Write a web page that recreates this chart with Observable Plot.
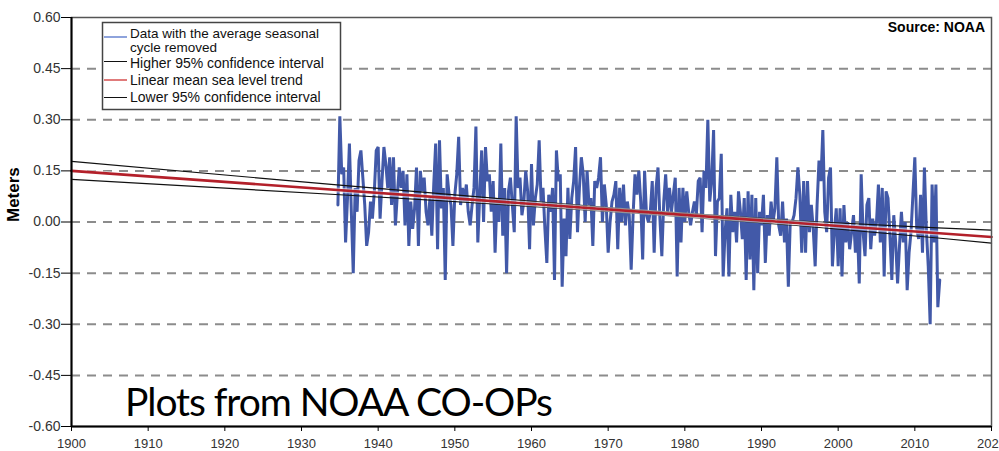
<!DOCTYPE html>
<html>
<head>
<meta charset="utf-8">
<script src="https://cdn.jsdelivr.net/npm/d3@7"></script>
<script src="https://cdn.jsdelivr.net/npm/@observablehq/plot@0.6"></script>
<style>
  html, body { margin: 0; padding: 0; background: #fff; }
  #wrap { position: relative; width: 999px; height: 451px; overflow: hidden; }
  #wrap > svg { position: absolute; left: 0; top: 0; }
  #overlay { pointer-events: none; }
</style>
</head>
<body>
<div id="wrap"></div>
<script>
// Monthly mean sea level with the average seasonal cycle removed (metres),
// sampled every quarter year starting at seriesStart.
const seriesStart = 1934.75;
const seriesStep = 0.25;
const seaLevel = [
  0.05,
  0.31, 0.14, 0.16, -0.06,   // 1935
  0.07, 0.23, 0.03, -0.15,   // 1936
  0.10, 0.03, 0.18, 0.21,    // 1937
  0.13, 0.05, -0.07, -0.03,  // 1938
  0.06, 0.01, 0.09, 0.21,    // 1939
  0.22, 0.01, 0.12, 0.22,    // 1940
  0.17, 0.10, 0.19, 0.05,    // 1941
  0.19, -0.01, 0.08, 0.16,   // 1942
  0.10, 0.15, -0.01, 0.14,   // 1943
  -0.07, 0.06, -0.02, 0.04,  // 1944
  0.16, -0.07, 0.15, 0.09,   // 1945
  0.13, 0.03, -0.01, 0.07,   // 1946
  -0.04, 0.11, 0.23, -0.08,  // 1947
  0.24, 0.04, 0.10, -0.17,   // 1948
  0.14, 0.08, 0.05, -0.07,   // 1949
  0.08, 0.14, 0.25, 0.05,    // 1950
  0.10, 0.06, 0.11, 0.03,    // 1951
  -0.01, 0.05, 0.10, 0.28,   // 1952
  -0.06, 0.08, 0.21, 0.00,   // 1953
  0.22, 0.12, 0.14, 0.03,    // 1954
  0.12, -0.09, 0.07, 0.00,   // 1955
  0.23, -0.04, 0.10, -0.15,  // 1956
  0.09, 0.13, 0.05, -0.03,   // 1957
  0.31, 0.10, 0.13, 0.02,    // 1958
  0.06, 0.15, 0.09, -0.08,   // 1959
  0.17, -0.01, 0.07, 0.11,   // 1960
  0.24, 0.06, 0.10, -0.02,   // 1961
  -0.12, 0.08, 0.03, 0.10,   // 1962
  -0.17, 0.21, 0.12, 0.14,   // 1963
  -0.19, 0.01, -0.10, 0.10,  // 1964
  -0.05, 0.07, 0.12, 0.22,   // 1965
  -0.03, 0.10, 0.19, 0.14,   // 1966
  0.00, 0.15, 0.05, 0.07,    // 1967
  -0.07, 0.12, 0.10, 0.13,   // 1968
  0.19, 0.00, 0.11, 0.05,    // 1969
  -0.09, 0.00, 0.06, 0.08,   // 1970
  0.12, -0.08, 0.10, 0.00,   // 1971
  0.11, -0.01, 0.06, 0.02,   // 1972
  -0.14, 0.02, 0.14, 0.08,   // 1973
  0.15, 0.06, -0.11, 0.15,   // 1974
  0.02, 0.00, 0.03, 0.12,    // 1975
  -0.09, 0.10, 0.16, 0.01,   // 1976
  -0.10, 0.06, 0.14, 0.03,   // 1977
  0.10, 0.03, 0.08, 0.13,    // 1978
  -0.16, 0.10, -0.06, 0.10,  // 1979
  0.00, 0.09, 0.03, -0.01,   // 1980
  0.03, 0.06, 0.02, 0.12,    // 1981
  0.13, -0.03, 0.15, 0.10,   // 1982
  0.30, 0.06, 0.12, 0.27,    // 1983
  -0.10, 0.06, 0.07, 0.20,   // 1984
  -0.16, -0.03, 0.04, -0.16, // 1985
  0.08, -0.03, 0.03, -0.06,  // 1986
  0.09, 0.03, -0.05, 0.07,   // 1987
  -0.17, 0.09, -0.11, 0.08,  // 1988
  -0.20, 0.07, -0.15, 0.03,  // 1989
  -0.01, 0.08, -0.12, 0.02,  // 1990
  -0.04, 0.06, 0.00, 0.04,   // 1991
  0.19, -0.01, -0.04, 0.06,  // 1992
  -0.06, 0.01, -0.19, 0.00,  // 1993
  0.00, 0.02, 0.07, 0.16,    // 1994
  0.08, -0.09, 0.12, -0.09,  // 1995
  0.12, -0.03, 0.05, -0.02,  // 1996
  -0.13, 0.05, 0.18, 0.12,   // 1997
  0.27, 0.03, -0.03, 0.13,   // 1998
  0.16, -0.13, -0.03, 0.04,  // 1999
  -0.13, 0.04, -0.16, 0.05,  // 2000
  -0.06, 0.00, -0.08, -0.03, // 2001
  0.02, -0.09, -0.01, -0.18, // 2002
  0.14, -0.03, -0.10, 0.05,  // 2003
  0.07, -0.08, 0.01, -0.04,  // 2004
  0.00, 0.11, -0.06, 0.10,   // 2005
  -0.16, 0.09, 0.07, -0.04,  // 2006
  -0.17, 0.02, -0.06, -0.18, // 2007
  -0.07, 0.03, -0.06, 0.00,  // 2008
  -0.20, -0.09, -0.03, 0.08, // 2009
  0.19, -0.02, -0.05, 0.08,  // 2010
  -0.09, 0.16, -0.02, -0.13, // 2011
  -0.30, 0.11, -0.06, 0.11,  // 2012
  -0.25, -0.17               // 2013
];

// Linear mean sea level trend
const trendYears = [1900, 2020];
const trendValues = [0.150, -0.044];

// 95% confidence band around the trend
const ciYears = [1900, 1935, 1955, 1974, 1995, 2013, 2020];
const ciHigh = [0.178, 0.108, 0.070, 0.035, 0.003, -0.017, -0.024];
const ciLow  = [0.125, 0.080, 0.053, 0.025, -0.011, -0.047, -0.062];

// Axis ticks
const yearTicks = [1900, 1910, 1920, 1930, 1940, 1950, 1960, 1970, 1980, 1990, 2000, 2010, 2020];
const meterTicks = [-0.60, -0.45, -0.30, -0.15, 0.00, 0.15, 0.30, 0.45, 0.60];
const gridLevels = [-0.45, -0.30, -0.15, 0.00, 0.15, 0.30, 0.45];

const series = seaLevel.map((v, i) => ({year: seriesStart + i * seriesStep, value: v}));
const trend = trendYears.map((y, i) => ({year: y, value: trendValues[i]}));
const upper = ciYears.map((y, i) => ({year: y, value: ciHigh[i]}));
const lower = ciYears.map((y, i) => ({year: y, value: ciLow[i]}));

const chart = Plot.plot({
  width: 999,
  height: 451,
  marginLeft: 71,
  marginRight: 8,
  marginTop: 17,
  marginBottom: 25,
  style: {fontFamily: "'Liberation Sans', Arial, sans-serif", fontSize: "13px", color: "#333", background: "#fff"},
  x: {domain: [1900, 2020]},
  y: {domain: [-0.6, 0.6]},
  marks: [
    Plot.ruleY(gridLevels, {stroke: "#8c8c8c", strokeWidth: 2, strokeDasharray: "9,7"}),
    Plot.lineY(series, {x: "year", y: "value", stroke: "#4259a8", strokeWidth: 3, strokeLinejoin: "miter"}),
    Plot.line(upper, {x: "year", y: "value", stroke: "#111", strokeWidth: 1.2}),
    Plot.line(lower, {x: "year", y: "value", stroke: "#111", strokeWidth: 1.2}),
    Plot.line(trend, {x: "year", y: "value", stroke: "#fff", strokeWidth: 5, strokeOpacity: 0.55}),
    Plot.line(trend, {x: "year", y: "value", stroke: "#b3202a", strokeWidth: 2.6}),
    Plot.frame({stroke: "#555", strokeWidth: 1.5}),
    Plot.ruleX([1900], {stroke: "#000", strokeWidth: 2}),
    Plot.ruleY([-0.6], {stroke: "#000", strokeWidth: 2}),
    Plot.axisY({ticks: meterTicks, tickFormat: d => d.toFixed(2), tickSize: 10, tickPadding: 1, fontSize: 14, label: null, stroke: "#000"}),
    Plot.axisX({ticks: yearTicks, tickFormat: d => String(d), tickSize: 5, tickPadding: 7, fontSize: 13, label: null, stroke: "#000"}),
    Plot.text(["Meters"], {frameAnchor: "left", rotate: -90, dx: -58, fontSize: 17, fontWeight: "bold", fill: "#000"})
  ]
});

document.getElementById("wrap").appendChild(chart);

// Legend, source note and caption drawn on top of the chart
const ns = "http://www.w3.org/2000/svg";
const ov = document.createElementNS(ns, "svg");
ov.setAttribute("id", "overlay");
ov.setAttribute("width", 999);
ov.setAttribute("height", 451);
ov.innerHTML = `
  <g font-family="'Liberation Sans', Arial, sans-serif" font-size="14" fill="#111">
    <rect x="102.5" y="22.5" width="238" height="87" fill="#fff" stroke="#444" stroke-width="1.5"/>
    <line x1="104" x2="127" y1="37" y2="37" stroke="#8ea3dc" stroke-width="2"/>
    <text x="130" y="37.5" font-size="13.5">Data with the average seasonal</text>
    <text x="130" y="51.5" font-size="13.5">cycle removed</text>
    <line x1="104" x2="127" y1="61.5" y2="61.5" stroke="#111" stroke-width="1"/>
    <text x="130" y="67.5">Higher 95% confidence interval</text>
    <line x1="104" x2="127" y1="80" y2="80" stroke="#e07b7b" stroke-width="2"/>
    <text x="130" y="84.5">Linear mean sea level trend</text>
    <line x1="104" x2="127" y1="97.5" y2="97.5" stroke="#111" stroke-width="1"/>
    <text x="130" y="101.5">Lower 95% confidence interval</text>
    <text x="985" y="31.5" text-anchor="end" font-weight="bold" fill="#000">Source: NOAA</text>
  </g>
  <text x="125" y="416" font-family="Lato, 'Open Sans', sans-serif" font-size="39" fill="#000" textLength="428" lengthAdjust="spacing">Plots from NOAA CO-OPs</text>
`;
document.getElementById("wrap").appendChild(ov);
</script>
</body>
</html>
